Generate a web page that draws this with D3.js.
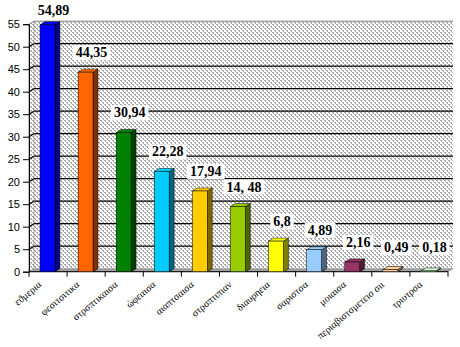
<!DOCTYPE html>
<html><head><meta charset="utf-8">
<script src="https://cdn.jsdelivr.net/npm/d3@7"></script>
<style>html,body{margin:0;padding:0;background:#fff;}</style>
</head><body>
<svg id="chart" width="460" height="347"></svg>
<script>
const categories = ["εϑμερια","φεσιτσιτικα","στρσπτικαισα","ώφεαισα","αιαπτσαισα","στρσπτιπιαν","διαυρηεια","σαριστσα","μοιαισα","περιαβιστσμετεισ σιι","τριυτρσα"];
const values = [54.89, 44.35, 30.94, 22.28, 17.94, 14.48, 6.8, 4.89, 2.16, 0.49, 0.18];
const valueLabels = ["54,89","44,35","30,94","22,28","17,94","14, 48","6,8","4,89","2,16","0,49","0,18"];
const frontColors = ["#0000ff","#ff6600","#008000","#00ccff","#ffcc00","#99cc00","#ffff00","#99ccff","#993366","#ffcc99","#ccffcc"];
const sideColors  = ["#000080","#803300","#004000","#006680","#806600","#4d6600","#808000","#4d6680","#4d1a33","#80664d","#668066"];
const yTicks = [0,5,10,15,20,25,30,35,40,45,50,55];

const svg = d3.select("#chart");
const DX = 5, DY = -3;
const x = d3.scaleBand().domain(categories).range([29, 448]);
const y = d3.scaleLinear().domain([0, 55]).range([271.7, 24.2]);

const defs = svg.append("defs");
const pat = defs.append("pattern").attr("id","hatch").attr("patternUnits","userSpaceOnUse")
  .attr("width",4).attr("height",4);
pat.append("rect").attr("width",4).attr("height",4).attr("fill","#ffffff");
[[0,0,2,1],[2,2,2,1],[1,1,1,1],[3,3,1,1]].forEach(r=>{
  pat.append("rect").attr("x",r[0]).attr("y",r[1]).attr("width",r[2]).attr("height",r[3]).attr("fill","#a8a8a8");
});

const x0 = x.range()[0], x1 = x.range()[1];
const yTop = y(55), yBot = y(0);

svg.append("rect").attr("x", x0+DX).attr("y", yTop+DY).attr("width", x1-x0).attr("height", yBot-yTop)
  .attr("fill","url(#hatch)");
svg.append("path").attr("d", `M${x0},${yTop} L${x0+DX},${yTop+DY} L${x0+DX},${yBot+DY} L${x0},${yBot} Z`)
  .attr("fill","url(#hatch)");

yTicks.forEach(t => {
  if (t === 0) return;
  const yy = y(t);
  svg.append("path").attr("d", `M${x0},${yy} L${x0+DX},${yy+DY} L${x1+DX},${yy+DY}`)
    .attr("fill","none").attr("stroke", t===55 ? "#808080" : "#000").attr("stroke-width", t===55 ? 1 : 1.3);
});
svg.append("line").attr("x1",x0).attr("x2",x0).attr("y1",yTop).attr("y2",yBot).attr("stroke","#808080");
svg.append("line").attr("x1",x0+DX).attr("x2",x0+DX).attr("y1",yTop+DY).attr("y2",yBot+DY).attr("stroke","#808080").attr("stroke-width",0.6);

svg.append("path").attr("d", `M${x0},${yBot} L${x0+DX},${yBot+DY} L${x1+DX},${yBot+DY} L${x1},${yBot} Z`)
  .attr("fill","#a0a0a0").attr("stroke","#808080").attr("stroke-width",0.5);

const yAxis = d3.axisLeft(y).tickValues(yTicks).tickSize(6).tickPadding(3).tickFormat(d3.format("d"));
const ya = svg.append("g").attr("transform", `translate(${x0},0)`).call(yAxis);
ya.select(".domain").attr("stroke","#000");
ya.selectAll(".tick line").attr("stroke","#000");
ya.selectAll("text").attr("font-family","Liberation Sans, Arial, sans-serif").attr("font-size","11px").attr("fill","#000");

svg.append("line").attr("x1",x0).attr("x2",x1).attr("y1",yBot).attr("y2",yBot).attr("stroke","#000");
const bounds = categories.map(c => x(c)).concat([x1]);
bounds.forEach(b => {
  svg.append("line").attr("x1",b).attr("x2",b).attr("y1",yBot).attr("y2",yBot+5).attr("stroke","#000");
});

const bw = x.bandwidth();
const barG = svg.append("g");
categories.forEach((c, i) => {
  const v = values[i];
  const bx = x(c) + bw*0.29, w = bw*0.39;
  const top = y(v), bot = y(0);
  barG.append("path").attr("d", `M${bx+w},${top} L${bx+w+DX},${top+DY} L${bx+w+DX},${bot+DY} L${bx+w},${bot} Z`)
    .attr("fill", sideColors[i]).attr("stroke","#000").attr("stroke-width",0.5);
  barG.append("path").attr("d", `M${bx},${top} L${bx+DX},${top+DY} L${bx+w+DX},${top+DY} L${bx+w},${top} Z`)
    .attr("fill", frontColors[i]).attr("stroke","#000").attr("stroke-width",0.5);
  barG.append("rect").attr("x", bx).attr("y", top).attr("width", w).attr("height", Math.max(0, bot-top))
    .attr("fill", frontColors[i]).attr("stroke","#000").attr("stroke-width",0.5);
});

const lab = svg.append("g");
categories.forEach((c, i) => {
  const v = values[i];
  const cx = x(c) + bw*0.485 + 6;
  const by = Math.max(15, Math.min(y(v) - 15, 252));
  const t = lab.append("text").attr("x", cx).attr("y", by).attr("text-anchor","middle")
    .attr("font-family","Liberation Serif, Times New Roman, serif").attr("font-weight","bold")
    .attr("font-size","14px").attr("fill","#000").text(valueLabels[i]);
  const bb = t.node().getBBox();
  lab.insert("rect", () => t.node()).attr("x", bb.x-3).attr("y", bb.y).attr("width", bb.width+6).attr("height", bb.height)
    .attr("fill","#fff");
});

categories.forEach((c, i) => {
  const cx = x(c) + bw/2;
  svg.append("text").attr("transform", `translate(${cx-6},${yBot+14}) rotate(-40)`)
    .attr("text-anchor","end").attr("font-family","Liberation Serif, Times New Roman, serif")
    .attr("font-size","10px").attr("fill","#000").text(c);
});
</script>
</body></html>
